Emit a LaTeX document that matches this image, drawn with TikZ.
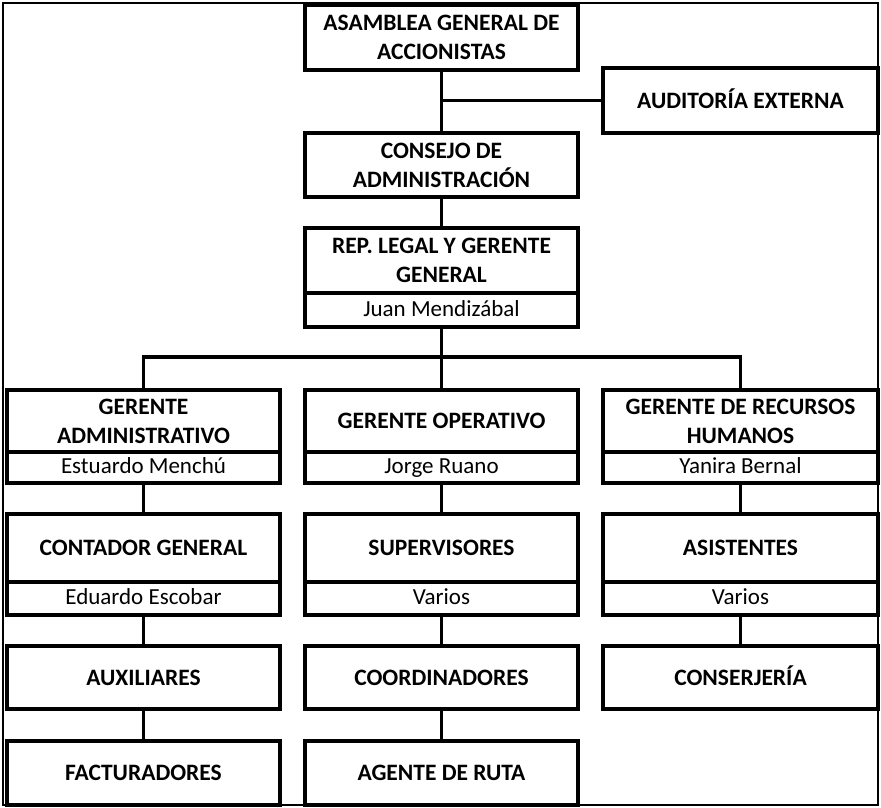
\documentclass[tikz,border=0pt]{standalone}
\usepackage{fontspec}
\setmainfont{Carlito}
\begin{document}
\begin{tikzpicture}[x=1pt,y=-1pt,
  tbox/.style={draw, line width=4pt, minimum width=273pt, inner sep=0pt, align=center,
    font=\fontsize{23.5}{29}\selectfont\bfseries},
  oneline/.style={text height=15.1pt, text depth=0pt},
  nbox/.style={draw, line width=4pt, minimum width=273pt, inner sep=0pt, align=center,
    text height=16pt, text depth=4pt,
    font=\fontsize{23}{28}\selectfont},
  link/.style={line width=3.2pt}]
\useasboundingbox (0,0) rectangle (881,808);
\draw[line width=1.5pt] (3,3) rectangle (878,805);
% top chain
\node[tbox, minimum height=65pt] (asam) at (441.5,37.5) {ASAMBLEA GENERAL DE\\ACCIONISTAS};
\node[tbox, oneline, minimum height=65pt, minimum width=275pt] (aud) at (740.5,100.5) {AUDITORÍA EXTERNA};
\node[tbox, minimum height=64pt] (cons) at (441.5,165) {CONSEJO DE\\ADMINISTRACIÓN};
\node[tbox, minimum height=65pt] (rep) at (441.5,260.5) {REP. LEGAL Y GERENTE\\GENERAL};
\node[nbox, minimum height=34pt] (repn) at (441.5,310) {Juan Mendizábal};
% row 2
\node[tbox, minimum height=62pt] (ga) at (143.5,421) {GERENTE\\ADMINISTRATIVO};
\node[nbox, minimum height=31pt] (gan) at (143.5,467.5) {Estuardo Menchú};
\node[tbox, oneline, minimum height=62pt] (go) at (441.5,421) {GERENTE OPERATIVO};
\node[nbox, minimum height=31pt] (gon) at (441.5,467.5) {Jorge Ruano};
\node[tbox, minimum height=62pt, minimum width=275pt] (gr) at (740.5,421) {GERENTE DE RECURSOS\\HUMANOS};
\node[nbox, minimum height=31pt, minimum width=275pt] (grn) at (740.5,467.5) {Yanira Bernal};
% row 3
\node[tbox, oneline, minimum height=68pt] (cg) at (143.5,548) {CONTADOR GENERAL};
\node[nbox, minimum height=33pt] (cgn) at (143.5,598.5) {Eduardo Escobar};
\node[tbox, oneline, minimum height=68pt] (sup) at (441.5,548) {SUPERVISORES};
\node[nbox, minimum height=33pt] (supn) at (441.5,598.5) {Varios};
\node[tbox, oneline, minimum height=68pt, minimum width=275pt] (asi) at (740.5,548) {ASISTENTES};
\node[nbox, minimum height=33pt, minimum width=275pt] (asin) at (740.5,598.5) {Varios};
% row 4
\node[tbox, oneline, minimum height=63pt] (aux) at (143.5,677.5) {AUXILIARES};
\node[tbox, oneline, minimum height=63pt] (coo) at (441.5,677.5) {COORDINADORES};
\node[tbox, oneline, minimum height=63pt, minimum width=275pt] (conse) at (740.5,677.5) {CONSERJERÍA};
% row 5
\node[tbox, oneline, minimum height=64pt] (fac) at (143.5,773) {FACTURADORES};
\node[tbox, oneline, minimum height=64pt] (age) at (441.5,773) {AGENTE DE RUTA};
% connectors
\coordinate (bar) at (441.5,357);
\draw[link] (asam.south) -- (cons.north);
\draw[link] (aud.west) -- (aud.west -| asam.south);
\draw[link] (cons.south) -- (rep.north);
\draw[link] (repn.south) -- (bar);
\draw[link] (ga.north) |- (bar) -| (gr.north);
\draw[link] (bar) -- (go.north);
\draw[link] (gan.south) -- (cg.north);
\draw[link] (gon.south) -- (sup.north);
\draw[link] (grn.south) -- (asi.north);
\draw[link] (cgn.south) -- (aux.north);
\draw[link] (supn.south) -- (coo.north);
\draw[link] (asin.south) -- (conse.north);
\draw[link] (aux.south) -- (fac.north);
\draw[link] (coo.south) -- (age.north);
\end{tikzpicture}
\end{document}
